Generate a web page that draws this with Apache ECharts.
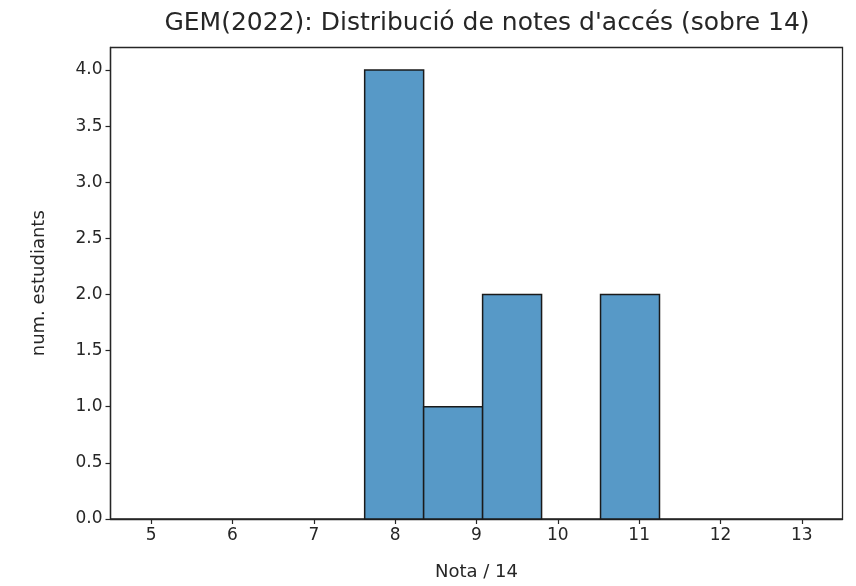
<!DOCTYPE html>
<html>
<head>
<meta charset="utf-8">
<script src="https://cdn.jsdelivr.net/npm/echarts@6/dist/echarts.min.js"></script>
<style>html,body{margin:0;padding:0;background:#fff}#c{width:856px;height:586px}</style>
</head>
<body>
<div id="c"></div>
<script>
var titleText = "GEM(2022): Distribució de notes d'accés (sobre 14)";
var xLabel = "Nota / 14";
var yLabel = "num. estudiants";
var binEdges = [7.625, 8.35, 9.075, 9.8, 10.525, 11.25];
var counts = [4, 1, 2, 0, 2];
var xTicks = [5, 6, 7, 8, 9, 10, 11, 12, 13];
var yTicks = [0, 0.5, 1, 1.5, 2, 2.5, 3, 3.5, 4];

var bins = [];
for (var i = 0; i < counts.length; i++) bins.push([binEdges[i], binEdges[i+1], counts[i]]);

var txt = '#262626';
var font = 'DejaVu Sans';
var chart = echarts.init(document.getElementById('c'), null, {renderer: 'canvas'});
chart.setOption({
  animation: false,
  backgroundColor: '#ffffff',
  title: {
    text: titleText, left: 482, top: 6, textAlign: 'center',
    textStyle: {fontFamily: font, fontSize: 25, fontWeight: 'normal', color: txt}
  },
  grid: {left: 110.5, right: 13.5, top: 47.5, bottom: 65.5, show: true, borderColor: '#262626', borderWidth: 1.3, backgroundColor: 'transparent'},
  xAxis: {
    type: 'value', min: 4.5, max: 13.5,
    name: xLabel, nameLocation: 'middle', nameGap: 44,
    nameTextStyle: {fontFamily: font, fontSize: 18, color: txt},
    splitLine: {show: false},
    axisLine: {show: true, onZero: false, lineStyle: {color: '#262626', width: 1.3}},
    axisTick: {show: true, length: 5, customValues: xTicks, lineStyle: {color: '#262626', width: 1.2}},
    axisLabel: {customValues: xTicks, fontFamily: font, fontSize: 17, color: txt, margin: 8}
  },
  yAxis: {
    type: 'value', min: 0, max: 4.2,
    name: yLabel, nameLocation: 'middle', nameGap: 62,
    nameTextStyle: {fontFamily: font, fontSize: 18, color: txt},
    splitLine: {show: false},
    axisLine: {show: true, lineStyle: {color: '#262626', width: 1.3}},
    axisTick: {show: true, length: 5, customValues: yTicks, lineStyle: {color: '#262626', width: 1.2}},
    axisLabel: {customValues: yTicks, fontFamily: font, fontSize: 17, color: txt, margin: 8,
      formatter: function (v) { return v.toFixed(1); }}
  },
  series: [{
    type: 'custom',
    data: bins,
    encode: {x: [0, 1], y: 2},
    renderItem: function (params, api) {
      var p0 = api.coord([api.value(0), 0]);
      var p1 = api.coord([api.value(1), api.value(2)]);
      if (api.value(2) <= 0) return null;
      return {
        type: 'rect',
        shape: {x: p0[0], y: p1[1], width: p1[0] - p0[0], height: p0[1] - p1[1]},
        style: {fill: '#5799c7', stroke: '#1a1a1a', lineWidth: 1.5}
      };
    }
  }]
});
</script>
</body>
</html>
